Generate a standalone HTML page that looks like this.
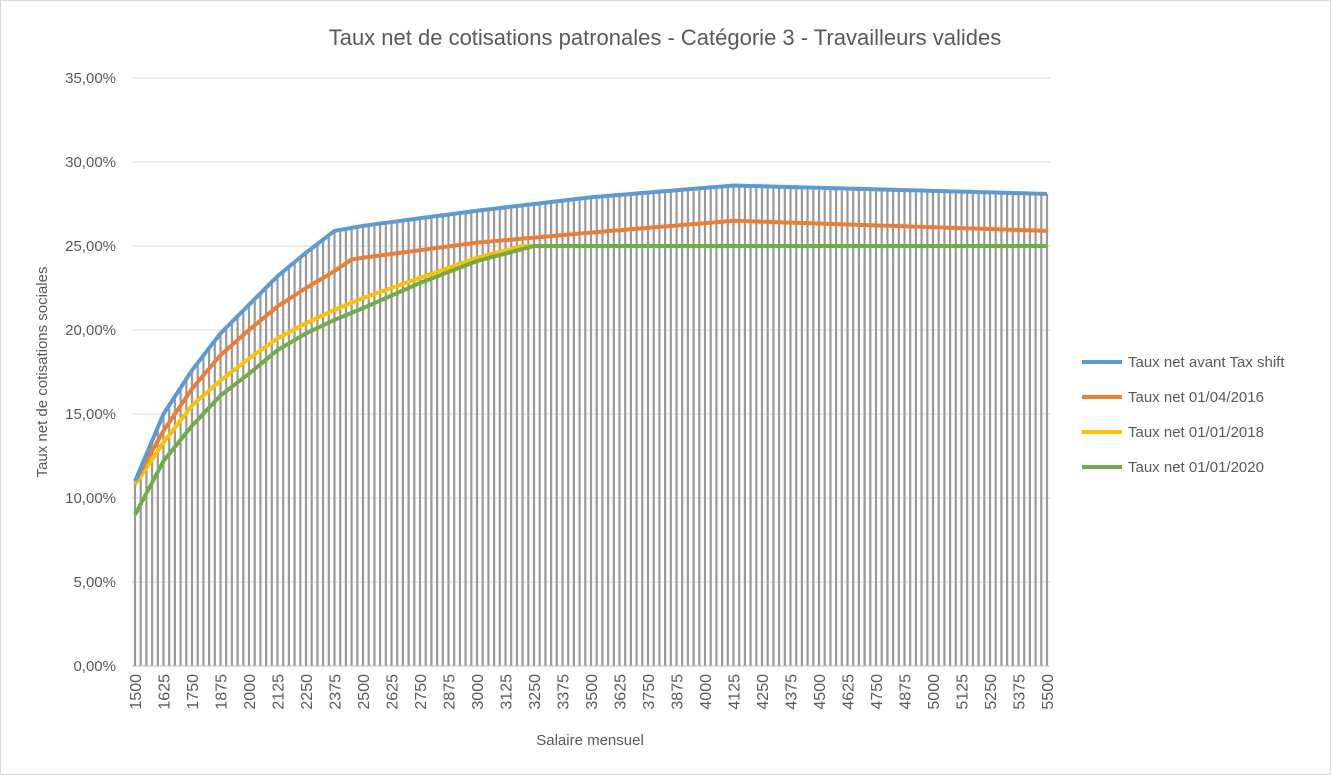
<!DOCTYPE html>
<html><head><meta charset="utf-8"><style>
body{margin:0;background:#fff}
svg{display:block;font-family:"Liberation Sans",sans-serif}
</style></head><body>
<svg id="c" width="1331" height="775" xmlns="http://www.w3.org/2000/svg">
<rect x="0.5" y="0.5" width="1330" height="774" fill="#fff" stroke="#d9d9d9"/>
<text x="665" y="45" text-anchor="middle" font-size="22" fill="#595959">Taux net de cotisations patronales - Catégorie 3 - Travailleurs valides</text>
<text transform="translate(47,372) rotate(-90)" text-anchor="middle" font-size="15" fill="#595959">Taux net de cotisations sociales</text>
<text x="590" y="745" text-anchor="middle" font-size="15" fill="#595959">Salaire mensuel</text>
<g id="g"></g>
<g font-size="15" fill="#595959">
<line x1="1082" y1="362" x2="1122" y2="362" stroke="#5b9bd5" stroke-width="4"/><text x="1128" y="367">Taux net avant Tax shift</text>
<line x1="1082" y1="397" x2="1122" y2="397" stroke="#ed7d31" stroke-width="4"/><text x="1128" y="402">Taux net 01/04/2016</text>
<line x1="1082" y1="432" x2="1122" y2="432" stroke="#ffc000" stroke-width="4"/><text x="1128" y="437">Taux net 01/01/2018</text>
<line x1="1082" y1="467" x2="1122" y2="467" stroke="#70ad47" stroke-width="4"/><text x="1128" y="472">Taux net 01/01/2020</text>
</g>
</svg>
<script>
var g=document.getElementById('g'),h='';
function Y(v){return 666-v*16.8}
function X(i){return 135+i*5.7}
for(var k=0;k<=7;k++){var y=666-k*84;h+='<line x1="132" x2="1050" y1="'+y+'" y2="'+y+'" stroke="#d9d9d9" stroke-width="1"/>';
h+='<text x="116" y="'+(y+5)+'" text-anchor="end" font-size="15" fill="#595959">'+(k*5)+',00%</text>';}
function mk(p){return function(s){for(var j=0;j<p.length-1;j++){if(s<=p[j+1][0]){var t=(s-p[j][0])/(p[j+1][0]-p[j][0]);return p[j][1]+t*(p[j+1][1]-p[j][1]);}}return p[p.length-1][1];}}
var B=mk([[1500,11],[1625,15],[1750,17.6],[1875,19.8],[2000,21.5],[2125,23.2],[2250,24.6],[2375,25.9],[2500,26.2],[3000,27.1],[3500,27.9],[4125,28.6],[5500,28.1]]);
var O=mk([[1500,11],[1625,14],[1750,16.5],[1875,18.5],[2000,20],[2125,21.4],[2250,22.5],[2375,23.5],[2450,24.2],[2500,24.3],[3000,25.2],[3500,25.8],[4125,26.5],[5500,25.9]]);
var Yl=mk([[1500,10.8],[1625,13.3],[1750,15.5],[1875,17],[2000,18.3],[2125,19.5],[2250,20.4],[2375,21.2],[2500,21.9],[2750,23.1],[3000,24.3],[3200,25],[5500,25]]);
var G=mk([[1500,9],[1625,12.2],[1750,14.3],[1875,16.1],[2000,17.4],[2125,18.8],[2250,19.8],[2375,20.6],[2500,21.3],[2750,22.8],[3000,24.1],[3250,25],[5500,25]]);
var pb='',po='',py='',pg='';
for(var i=0;i<=160;i++){var s=1500+25*i,x=X(i);
h+='<line x1="'+x+'" x2="'+x+'" y1="666" y2="'+Y(B(s))+'" stroke="#9a9a9a" stroke-width="2.2"/>';
pb+=x+','+Y(B(s))+' ';po+=x+','+Y(O(s))+' ';py+=x+','+Y(Yl(s))+' ';pg+=x+','+Y(G(s))+' ';
if(i%5==0)h+='<text transform="translate('+(x+6)+',674) rotate(-90)" text-anchor="end" font-size="16" fill="#595959">'+s+'</text>';}
h+='<line x1="132" x2="1050" y1="666" y2="666" stroke="#bfbfbf"/>';
[[py,'#ffc000'],[pg,'#70ad47'],[po,'#ed7d31'],[pb,'#5b9bd5']].forEach(function(a){h+='<polyline points="'+a[0]+'" fill="none" stroke="'+a[1]+'" stroke-width="4" stroke-linejoin="round"/>';});
g.innerHTML=h;
</script>
</body></html>
